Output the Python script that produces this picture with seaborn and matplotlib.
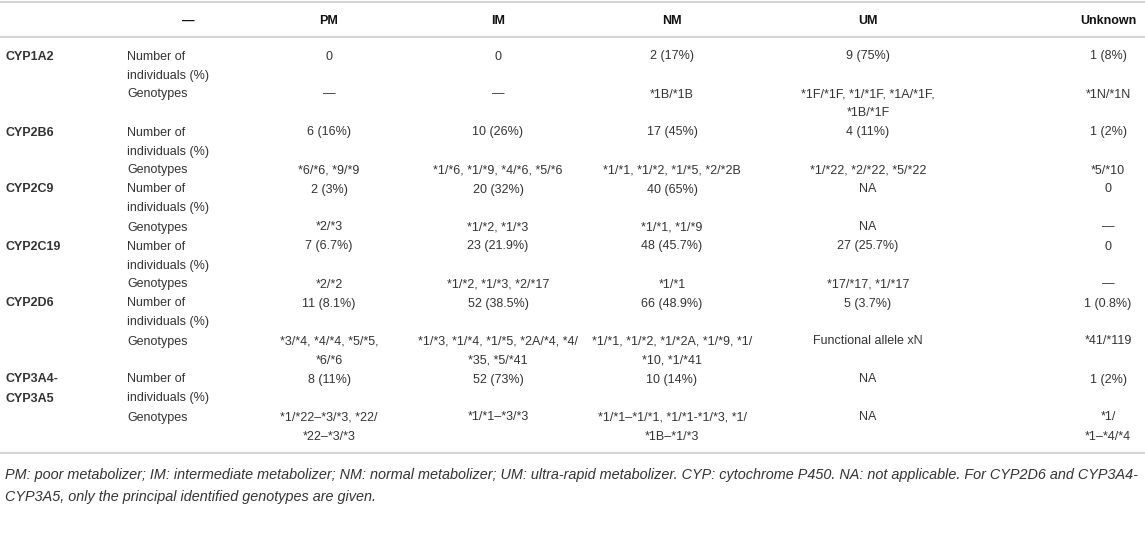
import matplotlib
matplotlib.use("Agg")
import matplotlib.pyplot as plt
import seaborn as sns

# --- data -------------------------------------------------------------
header = ["\u2014", "PM", "IM", "NM", "UM", "Unknown"]
genes = ["CYP1A2", "CYP2B6", "CYP2C9", "CYP2C19", "CYP2D6", "CYP3A4-\nCYP3A5"]
row_labels = ["Number of\nindividuals (%)", "Genotypes"]

counts = [
    ["0", "0", "2 (17%)", "9 (75%)", "1 (8%)"],
    ["6 (16%)", "10 (26%)", "17 (45%)", "4 (11%)", "1 (2%)"],
    ["2 (3%)", "20 (32%)", "40 (65%)", "NA", "0"],
    ["7 (6.7%)", "23 (21.9%)", "48 (45.7%)", "27 (25.7%)", "0"],
    ["11 (8.1%)", "52 (38.5%)", "66 (48.9%)", "5 (3.7%)", "1 (0.8%)"],
    ["8 (11%)", "52 (73%)", "10 (14%)", "NA", "1 (2%)"],
]

genotypes = [
    ["\u2014", "\u2014", "*1B/*1B", "*1F/*1F, *1/*1F, *1A/*1F,\n*1B/*1F", "*1N/*1N"],
    ["*6/*6, *9/*9", "*1/*6, *1/*9, *4/*6, *5/*6", "*1/*1, *1/*2, *1/*5, *2/*2B",
     "*1/*22, *2/*22, *5/*22", "*5/*10"],
    ["*2/*3", "*1/*2, *1/*3", "*1/*1, *1/*9", "NA", "\u2014"],
    ["*2/*2", "*1/*2, *1/*3, *2/*17", "*1/*1", "*17/*17, *1/*17", "\u2014"],
    ["*3/*4, *4/*4, *5/*5,\n*6/*6", "*1/*3, *1/*4, *1/*5, *2A/*4, *4/\n*35, *5/*41",
     "*1/*1, *1/*2, *1/*2A, *1/*9, *1/\n*10, *1/*41", "Functional allele xN", "*41/*119"],
    ["*1/*22\u2013*3/*3, *22/\n*22\u2013*3/*3", "*1/*1\u2013*3/*3",
     "*1/*1\u2013*1/*1, *1/*1-*1/*3, *1/\n*1B\u2013*1/*3", "NA", "*1/\n*1\u2013*4/*4"],
]

footnote = ["PM: poor metabolizer; IM: intermediate metabolizer; NM: normal metabolizer; "
            "UM: ultra-rapid metabolizer. CYP: cytochrome P450. NA: not applicable. For CYP2D6 and CYP3A4-",
            "CYP3A5, only the principal identified genotypes are given."]

# --- layout -----------------------------------------------------------
W, H = 1145, 553
gene_x = 5
label_x = 127
col_centers = [188, 329, 498, 672, 868, 1108]
pitch = 19
first_row = 55
base_off = 4.5

sns.set_theme(style="white")
plt.rcParams['font.family'] = ['Liberation Sans', 'DejaVu Sans']
fs = 9
fs_note = 10.4
txt_col = "#333333"

fig = plt.figure(figsize=(W / 100, H / 100), dpi=100)
ax = fig.add_axes([0, 0, 1, 1])
ax.set_xlim(0, W)
ax.set_ylim(H, 0)
ax.axis("off")


def put(x, y, s, ha="center", **kw):
    # one text line per row pitch so wrapped cells stay on the grid
    for k, line in enumerate(s.split("\n")):
        ax.text(x, y + k * pitch + base_off, line, ha=ha, va="baseline",
                fontsize=fs, color=txt_col, **kw)


line_col = "#d4d4d4"
ax.plot([0, W], [1.5, 1.5], color=line_col, lw=1.5)
ax.plot([0, W], [37, 37], color=line_col, lw=1.5)

for j, h in enumerate(header):
    ax.text(col_centers[j], 19 + base_off, h, ha="center", va="baseline",
            fontsize=fs, fontweight="bold", color="#111111")

y = first_row
for g, gene in enumerate(genes):
    put(gene_x, y, gene, ha="left", fontweight="bold")
    put(label_x, y, row_labels[0], ha="left")
    for j, v in enumerate(counts[g]):
        put(col_centers[j + 1], y, v)
    y_gen = y + 2 * pitch
    put(label_x, y_gen, row_labels[1], ha="left")
    for j, v in enumerate(genotypes[g]):
        put(col_centers[j + 1], y_gen, v)
    n_lines = max(s.count("\n") + 1 for s in genotypes[g])
    y = y_gen + n_lines * pitch

bottom = y - pitch + 18
ax.plot([0, W], [bottom, bottom], color=line_col, lw=1.5)

for k, line in enumerate(footnote):
    ax.text(gene_x, bottom + 21 + k * 22 + base_off, line, ha="left", va="baseline",
            fontsize=fs_note, style="italic", color=txt_col)

fig.savefig("out.png", dpi=100)
